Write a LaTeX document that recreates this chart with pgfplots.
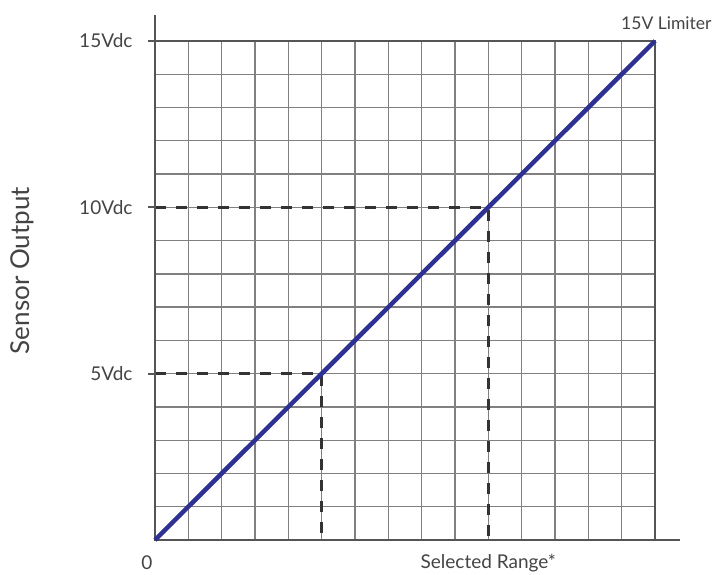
\documentclass[border=0pt]{standalone}
\usepackage{pgfplots}
\pgfplotsset{compat=1.18}
\usepackage{fontspec}
\setmainfont{Lato}
\definecolor{txt}{HTML}{444444}
\definecolor{gridc}{HTML}{808080}
\definecolor{darkl}{HTML}{555555}
\definecolor{dashc}{HTML}{333333}
\definecolor{lineblue}{HTML}{2E3192}
\begin{document}
\begin{tikzpicture}
\useasboundingbox (-155bp,-35bp) rectangle (560bp,540bp);
\begin{axis}[
  at={(0,0)}, anchor=origin,
  scale only axis, width=500bp, height=499bp,
  xmin=0, xmax=15, ymin=0, ymax=15,
  clip=false,
  axis line style={draw=none},
  xtick={1,...,14}, xticklabels={},
  xtick style={draw=none},
  xmajorgrids=true,
  ytick={5,10,15}, yticklabels={5Vdc,10Vdc,15Vdc},
  ytick pos=left,
  minor ytick={1,...,14,15},
  yminorgrids=true, ymajorgrids=true,
  grid style={draw=gridc, line width=1.3bp},
  minor grid style={draw=gridc, line width=1.3bp},
  minor tick length=0pt,
  tick align=outside, major tick length=7bp,
  ytick style={draw=darkl, line width=2bp},
  yticklabel style={font=\fontsize{19bp}{22bp}\selectfont, text=txt, xshift=-12bp},
  /pgf/number format/assume math mode=true,
]
\addplot[draw=dashc, line width=2.5bp, dash pattern=on 10.7bp off 10.3bp] coordinates {(0,5) (5,5) (5,0)};
\addplot[draw=dashc, line width=2.5bp, dash pattern=on 10.7bp off 10.3bp] coordinates {(0,10) (10,10) (10,0)};
\draw[darkl, line width=2.5bp] (axis cs:0,15.78) -- (axis cs:0,0) -- (axis cs:15.75,0);
\draw[darkl, line width=2.5bp] (axis cs:0,15) -- (axis cs:15,15) -- (axis cs:15,0);
\addplot[draw=lineblue, line width=4.5bp] coordinates {(0,0) (15,15)};
\node[text=txt, font=\fontsize{19bp}{22bp}\selectfont] at (axis cs:-0.24,-0.69) {0};
\node[text=txt, font=\fontsize{19bp}{22bp}\selectfont] at (axis cs:10.0,-0.69) {Selected Range*};
\node[text=txt, anchor=east, inner sep=0pt, font=\fontsize{17.5bp}{21bp}\selectfont] at (axis cs:16.7,15.54) {15V Limiter};
\node[text=txt, rotate=90, font=\fontsize{26bp}{30bp}\selectfont] at (axis cs:-3.99,8.1) {Sensor Output};
\end{axis}
\end{tikzpicture}
\end{document}
